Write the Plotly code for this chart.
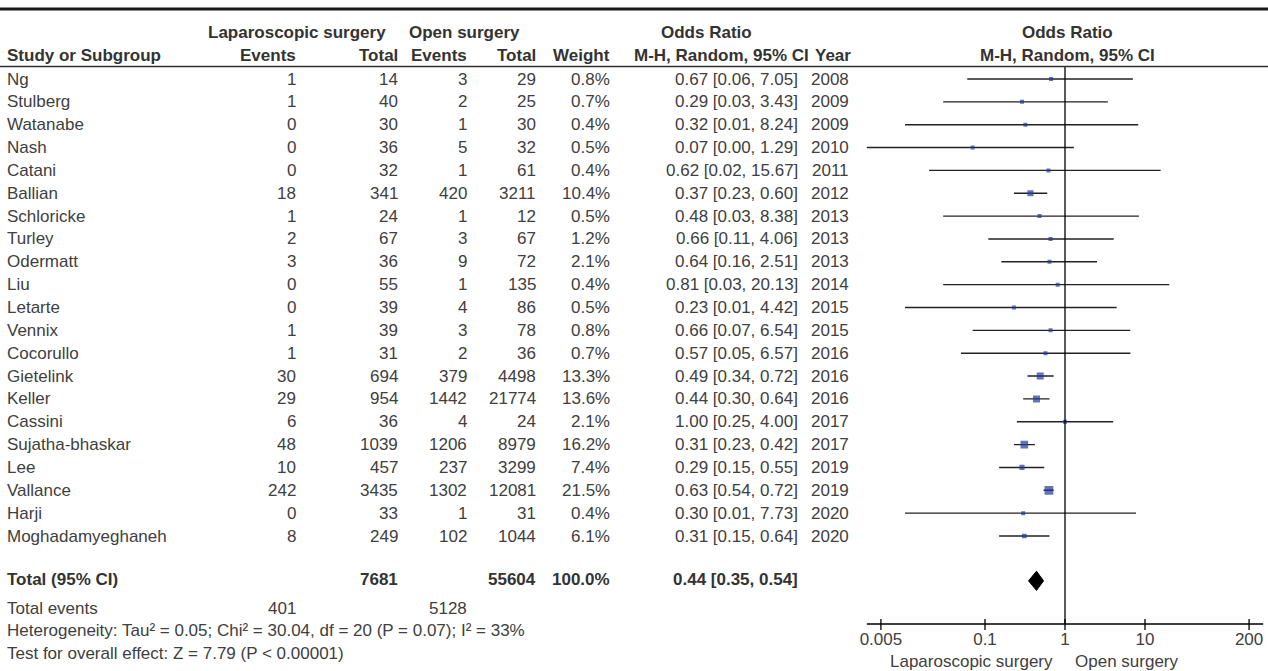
import math
import plotly.graph_objects as go

# ---- study data (laparoscopic vs open surgery) ----
studies = ["Ng", "Stulberg", "Watanabe", "Nash", "Catani", "Ballian", "Schloricke",
           "Turley", "Odermatt", "Liu", "Letarte", "Vennix", "Cocorullo", "Gietelink",
           "Keller", "Cassini", "Sujatha-bhaskar", "Lee", "Vallance", "Harji",
           "Moghadamyeghaneh"]
lap_events = [1, 1, 0, 0, 0, 18, 1, 2, 3, 0, 0, 1, 1, 30, 29, 6, 48, 10, 242, 0, 8]
lap_total = [14, 40, 30, 36, 32, 341, 24, 67, 36, 55, 39, 39, 31, 694, 954, 36, 1039,
             457, 3435, 33, 249]
open_events = [3, 2, 1, 5, 1, 420, 1, 3, 9, 1, 4, 3, 2, 379, 1442, 4, 1206, 237, 1302,
               1, 102]
open_total = [29, 25, 30, 32, 61, 3211, 12, 67, 72, 135, 86, 78, 36, 4498, 21774, 24,
              8979, 3299, 12081, 31, 1044]
weights = [0.8, 0.7, 0.4, 0.5, 0.4, 10.4, 0.5, 1.2, 2.1, 0.4, 0.5, 0.8, 0.7, 13.3, 13.6,
           2.1, 16.2, 7.4, 21.5, 0.4, 6.1]
odds_ratio = [0.67, 0.29, 0.32, 0.07, 0.62, 0.37, 0.48, 0.66, 0.64, 0.81, 0.23, 0.66,
              0.57, 0.49, 0.44, 1.00, 0.31, 0.29, 0.63, 0.30, 0.31]
ci_low = [0.06, 0.03, 0.01, 0.00, 0.02, 0.23, 0.03, 0.11, 0.16, 0.03, 0.01, 0.07, 0.05,
          0.34, 0.30, 0.25, 0.23, 0.15, 0.54, 0.01, 0.15]
ci_high = [7.05, 3.43, 8.24, 1.29, 15.67, 0.60, 8.38, 4.06, 2.51, 20.13, 4.42, 6.54,
           6.57, 0.72, 0.64, 4.00, 0.42, 0.55, 0.72, 7.73, 0.64]
years = [2008, 2009, 2009, 2010, 2011, 2012, 2013, 2013, 2013, 2014, 2015, 2015, 2016,
         2016, 2016, 2017, 2017, 2019, 2019, 2020, 2020]

# ---- pooled result ----
total_lap_events, total_lap = 401, 7681
total_open_events, total_open = 5128, 55604
total_weight = 100.0
pooled_or, pooled_low, pooled_high = 0.44, 0.35, 0.54
heterogeneity = "Heterogeneity: Tau² = 0.05; Chi² = 30.04, df = 20 (P = 0.07); I² = 33%"
overall_effect = "Test for overall effect: Z = 7.79 (P < 0.00001)"

tick_vals = [0.005, 0.1, 1, 10, 200]
tick_text = ["0.005", "0.1", "1", "10", "200"]
favours_left, favours_right = "Laparoscopic surgery", "Open surgery"

# ---- page geometry ----
W, H = 1268, 671
ROW0, ROW_H = 79, 22.85          # first study row (px) and row pitch (px)
LOG_HALF = 2.48                  # forest axis spans 10^-2.48 .. 10^2.48
NULL_PX, DECADE_PX = 1065, 80    # pixel position of OR = 1 and width of one decade

FONT = "Liberation Sans, Arial, sans-serif"
TXT = "#404040"
TXT_B = "#333333"
FS = 17


def ry(px):
    """pixel row -> y-axis units (one unit per study row)"""
    return (px - ROW0) / ROW_H


def fx(px):
    return px / W


fig = go.Figure()
annotations = []


def text(s, xpx, ypos, anchor="right", bold=False, size=FS):
    annotations.append(dict(
        text=f"<b>{s}</b>" if bold else s, x=fx(xpx), y=ypos, xref="paper", yref="y",
        xanchor=anchor, yanchor="middle", showarrow=False,
        font=dict(family=FONT, size=size, color=TXT_B if bold else TXT)))


# column right edges (px)
C_NAME, C_LE, C_LT, C_OE, C_OT, C_W, C_OR, C_YR = 5, 298, 400, 469, 538, 612, 800, 851

# headers
h1, h2 = ry(32), ry(55)
text("Laparoscopic surgery", 297, h1, "center", True)
text("Open surgery", 464, h1, "center", True)
text("Odds Ratio", 706, h1, "center", True)
text("Odds Ratio", NULL_PX + 2, h1, "center", True)
text("Study or Subgroup", C_NAME, h2, "left", True)
text("Events", C_LE, h2, "right", True)
text("Total", C_LT, h2, "right", True)
text("Events", C_OE, h2, "right", True)
text("Total", C_OT, h2, "right", True)
text("Weight", C_W, h2, "right", True)
text("M-H, Random, 95% CI", 811, h2, "right", True)
text("Year", 853, h2, "right", True)
text("M-H, Random, 95% CI", NULL_PX + 2, h2, "center", True)

# study rows
for i, name in enumerate(studies):
    text(name, C_NAME, i, "left")
    text(str(lap_events[i]), C_LE, i)
    text(str(lap_total[i]), C_LT, i)
    text(str(open_events[i]), C_OE, i)
    text(str(open_total[i]), C_OT, i)
    text(f"{weights[i]:.1f}%", C_W, i)
    text(f"{odds_ratio[i]:.2f} [{ci_low[i]:.2f}, {ci_high[i]:.2f}]", C_OR, i)
    text(str(years[i]), C_YR, i)

# totals and footer
r_tot = ry(579)
text("Total (95% CI)", C_NAME, r_tot, "left", True)
text(str(total_lap), C_LT, r_tot, "right", True)
text(str(total_open), C_OT, r_tot, "right", True)
text(f"{total_weight:.1f}%", C_W, r_tot, "right", True)
text(f"{pooled_or:.2f} [{pooled_low:.2f}, {pooled_high:.2f}]", C_OR, r_tot, "right", True)
r_ev = ry(608)
text("Total events", C_NAME, r_ev, "left")
text(str(total_lap_events), C_LE, r_ev)
text(str(total_open_events), C_OE, r_ev)
text(heterogeneity, C_NAME, ry(630), "left")
text(overall_effect, C_NAME, ry(653), "left")

# ---- forest plot ----
x_min, x_max = 10 ** -LOG_HALF, 10 ** LOG_HALF

# confidence-interval whiskers (clipped to the axis span)
wx, wy = [], []
for i in range(len(studies)):
    wx += [max(ci_low[i], x_min), min(ci_high[i], x_max), None]
    wy += [i, i, None]
fig.add_trace(go.Scatter(x=wx, y=wy, mode="lines", hoverinfo="skip",
                         line=dict(color="#222222", width=1.4)))

# study estimates, box size follows study weight
fig.add_trace(go.Scatter(
    x=odds_ratio, y=list(range(len(studies))), mode="markers", hoverinfo="skip",
    marker=dict(symbol="square", color="#22379c",
                size=[max(4, 1.9 * math.sqrt(w)) for w in weights],
                line=dict(width=0))))

# pooled diamond
dh = 0.42
yc = r_tot + 0.08
fig.add_trace(go.Scatter(
    x=[pooled_low, pooled_or, pooled_high, pooled_or, pooled_low],
    y=[yc, yc - dh, yc, yc + dh, yc],
    mode="lines", fill="toself", fillcolor="black", hoverinfo="skip",
    line=dict(color="black", width=1)))

# line of no effect
axis_y = ry(624)
fig.add_trace(go.Scatter(x=[1, 1], y=[ry(67), axis_y], mode="lines", hoverinfo="skip",
                         line=dict(color="black", width=1.3)))

# axis line with crossing ticks
fig.add_trace(go.Scatter(x=[x_min, x_max], y=[axis_y, axis_y], mode="lines",
                         hoverinfo="skip", line=dict(color="black", width=1.3)))
tx, ty = [], []
for v in tick_vals:
    tx += [v, v, None]
    ty += [ry(619), ry(630), None]
fig.add_trace(go.Scatter(x=tx, y=ty, mode="lines", hoverinfo="skip",
                         line=dict(color="black", width=1.3)))
fig.add_trace(go.Scatter(x=tick_vals, y=[ry(641)] * len(tick_vals), mode="text",
                         text=tick_text, textposition="middle center", hoverinfo="skip",
                         cliponaxis=False,
                         textfont=dict(family=FONT, size=FS, color=TXT)))

# favours labels
for label, anchor, shift in [(favours_left, "right", -10), (favours_right, "left", 8)]:
    annotations.append(dict(text=label, x=0, y=ry(661), xref="x", yref="y",
                            xanchor=anchor, xshift=shift, yanchor="middle",
                            showarrow=False,
                            font=dict(family=FONT, size=FS, color=TXT)))

# ---- table rules ----
shapes = [
    dict(type="line", xref="paper", yref="y", x0=0, x1=1, y0=ry(9), y1=ry(9),
         line=dict(color="#1a1a1a", width=3)),
    dict(type="line", xref="paper", yref="y", x0=0, x1=1, y0=ry(66.5), y1=ry(66.5),
         line=dict(color="#303030", width=1.5)),
]

dom0 = (NULL_PX - LOG_HALF * DECADE_PX) / W
dom1 = (NULL_PX + LOG_HALF * DECADE_PX) / W
fig.update_layout(
    width=W, height=H, margin=dict(l=0, r=0, t=0, b=0),
    paper_bgcolor="white", plot_bgcolor="white", showlegend=False,
    xaxis=dict(type="log", range=[-LOG_HALF, LOG_HALF], domain=[dom0, dom1],
               visible=False, fixedrange=True),
    yaxis=dict(range=[ry(H), ry(0)], domain=[0, 1], visible=False, fixedrange=True),
    annotations=annotations, shapes=shapes,
)
fig.write_html("out.html")
